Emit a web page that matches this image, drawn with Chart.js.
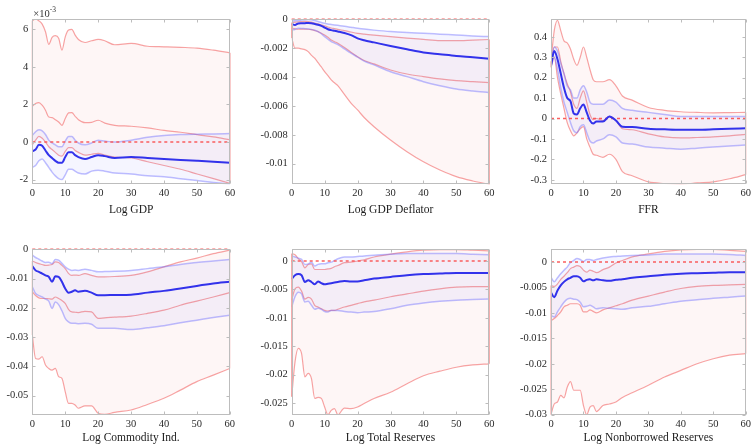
<!DOCTYPE html>
<html>
<head>
<meta charset="utf-8">
<script src="https://cdn.jsdelivr.net/npm/chart.js@4.4.0/dist/chart.umd.min.js"></script>
<style>
html, body { margin: 0; padding: 0; background: #fff; }
#wrap { position: relative; width: 754px; height: 444px; overflow: hidden; }
#wrap canvas { position: absolute; }
</style>
</head>
<body>
<div id="wrap">
  <canvas id="c1" width="251" height="222" style="left:0px;top:0px"></canvas>
  <canvas id="c2" width="251" height="222" style="left:251px;top:0px"></canvas>
  <canvas id="c3" width="252" height="222" style="left:502px;top:0px"></canvas>
  <canvas id="c4" width="251" height="222" style="left:0px;top:222px"></canvas>
  <canvas id="c5" width="251" height="222" style="left:251px;top:222px"></canvas>
  <canvas id="c6" width="252" height="222" style="left:502px;top:222px"></canvas>
</div>
<script>
// horizons (quarters after the shock)
const horizon = [0,1,2,3,4,5,6,7,8,9,10,11,12,13,14,16,18,20,22,25,30,35,40,45,50,55,60];
const xTicks = [0,10,20,30,40,50,60];

// Log GDP (values in units of 10^-3)
const gdpRedHi  = [6.46,6.55,6.45,6.28,5.87,5.2,5.57,5.66,5.52,4.89,5.6,5.96,6.0,5.69,5.46,5.3,5.39,5.46,5.39,5.18,5.25,5.1,5.07,5.04,5.0,4.89,4.75];
const gdpRedMid = [1.9,2.05,2.1,1.96,1.69,1.33,1.3,1.19,1.07,0.89,1.25,1.55,1.57,1.37,1.19,1.03,1.05,1.16,1.01,0.89,0.84,0.75,0.62,0.52,0.39,0.27,0.12];
const gdpRedLo  = [-0.15,0.1,0.3,0.2,0.0,-0.25,-0.4,-0.55,-0.7,-0.75,-0.5,-0.3,-0.3,-0.45,-0.55,-0.7,-0.65,-0.6,-0.7,-0.8,-0.85,-1.05,-1.25,-1.45,-1.7,-1.95,-2.2];
const gdpBlueHi = [0.35,0.55,0.65,0.6,0.4,0.1,-0.05,-0.15,-0.25,-0.25,0.05,0.3,0.3,0.1,-0.05,-0.15,-0.05,0.1,0.05,0.0,0.1,0.25,0.35,0.4,0.42,0.43,0.45];
const gdpBlueMid = [-0.5,-0.4,-0.15,-0.2,-0.45,-0.7,-0.85,-1.0,-1.1,-1.1,-0.8,-0.55,-0.55,-0.7,-0.8,-0.9,-0.8,-0.7,-0.75,-0.85,-0.8,-0.85,-0.9,-0.95,-1.0,-1.05,-1.1];
const gdpBlueLo = [-1.35,-1.25,-1.0,-0.9,-1.1,-1.35,-1.6,-1.8,-1.95,-2.0,-1.75,-1.45,-1.45,-1.55,-1.65,-1.7,-1.55,-1.5,-1.55,-1.65,-1.7,-1.8,-1.85,-1.95,-2.05,-2.15,-2.25];
const gdpTicks = [6,4,2,0,-2];
const gdpTickLabels = ['6','4','2','0','-2'];

// Log GDP Deflator
const defRedHi  = [-0.00023,-0.0002,-0.00017,-0.00016,-0.00015,-0.00016,-0.0002,-0.00026,-0.00032,-0.00039,-0.00046,-0.00053,-0.0006,-0.00065,-0.0007,-0.00078,-0.00088,-0.00097,-0.00103,-0.0011,-0.0012,-0.0013,-0.00139,-0.00148,-0.00148,-0.00144,-0.0014];
const defRedMid = [-0.00062,-0.00066,-0.00069,-0.00068,-0.00068,-0.00069,-0.00072,-0.00078,-0.00085,-0.00096,-0.00109,-0.00125,-0.00143,-0.00155,-0.00166,-0.00195,-0.00228,-0.00259,-0.00285,-0.00309,-0.00351,-0.00379,-0.00397,-0.00413,-0.00425,-0.00432,-0.00439];
const defRedLo  = [-0.0013,-0.002,-0.002,-0.00205,-0.0021,-0.00224,-0.0025,-0.0027,-0.003,-0.0033,-0.00363,-0.0039,-0.0042,-0.0044,-0.0046,-0.0052,-0.0058,-0.00628,-0.0068,-0.00744,-0.00836,-0.00917,-0.00987,-0.01044,-0.0109,-0.0112,-0.01143];
const defBlueHi = [-0.00012,-0.0001,-0.00008,-0.00005,-0.00003,-0.00002,-0.00004,-0.00009,-0.00015,-0.00022,-0.00028,-0.00033,-0.00036,-0.00039,-0.00042,-0.00048,-0.00055,-0.00062,-0.00068,-0.00075,-0.00085,-0.00092,-0.00097,-0.00103,-0.00109,-0.00115,-0.0012];
const defBlueMid = [-0.00032,-0.00039,-0.00029,-0.00028,-0.00027,-0.00025,-0.00027,-0.00032,-0.00038,-0.00046,-0.00057,-0.00069,-0.00075,-0.00079,-0.00084,-0.00095,-0.0011,-0.00132,-0.00145,-0.0016,-0.00185,-0.00208,-0.0023,-0.00242,-0.00254,-0.00263,-0.00273];
const defBlueLo = [-0.00074,-0.0007,-0.00062,-0.00063,-0.00065,-0.00067,-0.0007,-0.00076,-0.00085,-0.001,-0.0012,-0.00138,-0.00155,-0.00165,-0.00175,-0.00205,-0.00235,-0.00262,-0.0029,-0.00316,-0.00363,-0.00397,-0.00432,-0.0046,-0.00483,-0.00497,-0.00508];
const defTicks = [0,-0.002,-0.004,-0.006,-0.008,-0.01];
const defTickLabels = ['0','-0.002','-0.004','-0.006','-0.008','-0.01'];

// FFR
const ffrRedHi  = [0.28,0.43,0.48,0.43,0.38,0.37,0.34,0.29,0.26,0.3,0.35,0.3,0.24,0.19,0.18,0.18,0.19,0.16,0.11,0.09,0.054,0.04,0.033,0.03,0.028,0.029,0.03];
const ffrRedMid = [0.25,0.35,0.35,0.28,0.22,0.17,0.13,0.07,0.05,0.1,0.135,0.08,0.02,-0.005,0.0,-0.01,0.01,-0.01,-0.05,-0.055,-0.075,-0.09,-0.095,-0.093,-0.09,-0.085,-0.078];
const ffrRedLo  = [0.25,0.3,0.2,0.12,0.05,-0.02,-0.06,-0.085,-0.07,-0.05,-0.04,-0.1,-0.14,-0.175,-0.18,-0.19,-0.175,-0.2,-0.26,-0.28,-0.31,-0.318,-0.322,-0.315,-0.31,-0.295,-0.275];
const ffrBlueHi = [0.27,0.35,0.33,0.27,0.22,0.16,0.14,0.1,0.1,0.14,0.16,0.13,0.08,0.07,0.07,0.07,0.09,0.08,0.05,0.04,0.03,0.02,0.01,0.01,0.01,0.01,0.01];
const ffrBlueMid = [0.26,0.33,0.29,0.22,0.15,0.1,0.085,0.025,0.02,0.05,0.068,0.03,-0.01,-0.025,-0.015,-0.015,0.01,-0.01,-0.04,-0.042,-0.05,-0.053,-0.055,-0.055,-0.053,-0.05,-0.048];
const ffrBlueLo = [0.25,0.3,0.24,0.15,0.08,0.03,-0.02,-0.06,-0.07,-0.04,-0.03,-0.07,-0.11,-0.12,-0.11,-0.1,-0.08,-0.09,-0.12,-0.125,-0.14,-0.145,-0.15,-0.145,-0.14,-0.135,-0.13];
const ffrTicks = [0.4,0.3,0.2,0.1,0,-0.1,-0.2,-0.3];
const ffrTickLabels = ['0.4','0.3','0.2','0.1','0','-0.1','-0.2','-0.3'];

// Log Commodity Ind.
const comRedHi  = [-0.004,-0.0045,-0.0049,-0.0052,-0.0055,-0.0054,-0.0052,-0.0043,-0.0045,-0.0055,-0.0066,-0.0082,-0.0089,-0.0088,-0.0089,-0.0083,-0.0089,-0.0094,-0.0094,-0.0093,-0.0089,-0.0077,-0.006,-0.0043,-0.003,-0.0015,-0.0003];
const comRedMid = [-0.0145,-0.0158,-0.0166,-0.0168,-0.0168,-0.0169,-0.017,-0.0163,-0.0168,-0.0175,-0.0185,-0.0205,-0.0214,-0.0215,-0.0216,-0.0212,-0.0214,-0.0236,-0.0234,-0.0232,-0.0228,-0.0219,-0.0208,-0.0191,-0.0177,-0.0163,-0.0148];
const comRedLo  = [-0.0293,-0.0373,-0.0375,-0.0367,-0.0395,-0.0407,-0.0413,-0.0407,-0.0435,-0.0441,-0.0486,-0.0526,-0.0526,-0.0532,-0.0543,-0.0535,-0.0535,-0.056,-0.0564,-0.0557,-0.0549,-0.053,-0.0509,-0.0481,-0.0452,-0.043,-0.0407];
const comBlueHi = [-0.002,-0.0028,-0.0034,-0.004,-0.0045,-0.0044,-0.0049,-0.0035,-0.0037,-0.0048,-0.006,-0.0068,-0.0072,-0.0071,-0.0072,-0.0068,-0.0072,-0.0077,-0.0076,-0.0075,-0.0072,-0.0066,-0.006,-0.0052,-0.0045,-0.004,-0.0035];
const comBlueMid = [-0.0057,-0.0072,-0.0077,-0.0083,-0.0089,-0.0094,-0.0111,-0.0092,-0.0094,-0.0111,-0.0134,-0.0148,-0.0145,-0.014,-0.0145,-0.0142,-0.0148,-0.0157,-0.0157,-0.0156,-0.0155,-0.0148,-0.0142,-0.0134,-0.0125,-0.0117,-0.0111];
const comBlueLo = [-0.0128,-0.0151,-0.0158,-0.0163,-0.017,-0.0177,-0.0202,-0.018,-0.0189,-0.021,-0.0236,-0.0248,-0.0253,-0.0253,-0.0254,-0.0253,-0.0256,-0.027,-0.027,-0.027,-0.0274,-0.0268,-0.0261,-0.0251,-0.0242,-0.0233,-0.0225];
const comTicks = [0,-0.01,-0.02,-0.03,-0.04,-0.05];
const comTickLabels = ['0','-0.01','-0.02','-0.03','-0.04','-0.05'];

// Log Total Reserves
const totRedHi  = [0.0013,0.0011,0.0004,-0.0001,-0.0012,-0.0006,-0.0005,-0.0015,-0.0015,-0.0015,-0.0015,-0.0014,-0.0013,-0.001,-0.0008,-0.0003,-0.0002,0.0,0.0002,0.0007,0.0012,0.0016,0.0019,0.002,0.002,0.0019,0.0018];
const totRedMid = [-0.0069,-0.0049,-0.0046,-0.0053,-0.0067,-0.0064,-0.0067,-0.0078,-0.0081,-0.0084,-0.0087,-0.0088,-0.0087,-0.0087,-0.0085,-0.0081,-0.0078,-0.0075,-0.0072,-0.0069,-0.0063,-0.0058,-0.0053,-0.0049,-0.0046,-0.0045,-0.0045];
const totRedLo  = [-0.0239,-0.0178,-0.0154,-0.0163,-0.0204,-0.0198,-0.0207,-0.0242,-0.024,-0.0242,-0.0257,-0.0271,-0.0263,-0.026,-0.0271,-0.0259,-0.026,-0.0257,-0.0251,-0.0242,-0.0231,-0.0216,-0.0202,-0.0194,-0.0187,-0.0183,-0.0181];
const totBlueHi = [0.0009,0.0007,0.0005,0.0003,-0.0006,-0.0005,-0.0002,-0.0009,-0.0006,-0.0005,-0.0005,-0.0003,-0.0002,0.0001,0.0004,0.0007,0.0007,0.0008,0.0009,0.001,0.0012,0.0013,0.0013,0.0013,0.0013,0.0012,0.0011];
const totBlueMid = [-0.0032,-0.0025,-0.0023,-0.0025,-0.0037,-0.0034,-0.0037,-0.0041,-0.0036,-0.0039,-0.0041,-0.004,-0.0039,-0.0038,-0.0037,-0.0035,-0.0036,-0.0036,-0.0034,-0.0031,-0.0028,-0.0025,-0.0023,-0.0022,-0.0021,-0.0021,-0.0021];
const totBlueLo = [-0.0081,-0.0063,-0.0055,-0.0058,-0.0072,-0.0071,-0.0078,-0.0085,-0.0083,-0.0085,-0.0089,-0.009,-0.0087,-0.0087,-0.0087,-0.0089,-0.009,-0.0091,-0.009,-0.0089,-0.0084,-0.0078,-0.0074,-0.0071,-0.0069,-0.0068,-0.0067];
const totTicks = [0,-0.005,-0.01,-0.015,-0.02,-0.025];
const totTickLabels = ['0','-0.005','-0.01','-0.015','-0.02','-0.025'];

// Log Nonborrowed Reserves
const nbrRedHi  = [-0.0046,-0.0048,-0.0043,-0.0034,-0.0028,-0.0021,-0.0013,-0.001,-0.0007,-0.0009,-0.0016,-0.002,-0.0016,-0.0018,-0.0021,-0.0015,-0.001,-0.0002,0.0003,0.001,0.0016,0.0021,0.0024,0.0025,0.0025,0.0023,0.0021];
const nbrRedMid = [-0.0115,-0.0111,-0.0105,-0.0098,-0.0088,-0.0085,-0.0082,-0.0082,-0.0082,-0.0085,-0.0098,-0.0098,-0.0094,-0.0097,-0.01,-0.0094,-0.009,-0.0086,-0.0082,-0.0075,-0.0067,-0.0059,-0.0052,-0.0048,-0.0046,-0.0045,-0.0044];
const nbrRedLo  = [-0.03,-0.0279,-0.0275,-0.0262,-0.0267,-0.0246,-0.0235,-0.0252,-0.0252,-0.0252,-0.0282,-0.03,-0.0285,-0.0282,-0.0294,-0.0282,-0.0279,-0.0275,-0.0266,-0.0257,-0.0242,-0.0226,-0.0213,-0.02,-0.019,-0.0183,-0.018];
const nbrBlueHi = [-0.003,-0.0039,-0.0031,-0.0023,-0.0016,-0.001,-0.0001,0.0003,0.0007,0.0005,0.0001,0.0005,0.0005,0.0003,0.0005,0.0008,0.001,0.0011,0.0012,0.0013,0.0014,0.0016,0.0016,0.0016,0.0016,0.0015,0.0013];
const nbrBlueMid = [-0.006,-0.0069,-0.0056,-0.0046,-0.0039,-0.0034,-0.0031,-0.0028,-0.0028,-0.0031,-0.0038,-0.0035,-0.0034,-0.0036,-0.0034,-0.0036,-0.0037,-0.0035,-0.0034,-0.0031,-0.0028,-0.0025,-0.0023,-0.0022,-0.0021,-0.002,-0.002];
const nbrBlueLo = [-0.0105,-0.0108,-0.0098,-0.0088,-0.0079,-0.0073,-0.0071,-0.0073,-0.0074,-0.0079,-0.0088,-0.0087,-0.0085,-0.0088,-0.0092,-0.009,-0.0091,-0.0092,-0.0093,-0.009,-0.0087,-0.0082,-0.0077,-0.0074,-0.0071,-0.0069,-0.0067];
const nbrTicks = [0,-0.005,-0.01,-0.015,-0.02,-0.025,-0.03];
const nbrTickLabels = ['0','-0.005','-0.01','-0.015','-0.02','-0.025','-0.03'];

const serif = '"Liberation Serif", "Times New Roman", serif';
const frameColor = '#bdbdbd';

// box frame, inward tick marks, patch edges and the x10^-3 note
const matlabAxes = {
    id: 'matlabAxes',
    afterDatasetsDraw(chart, args, opts) {
        const {ctx, chartArea: a, scales: {x, y}} = chart;
        ctx.save();

        // red patch edges at both ends
        ctx.strokeStyle = 'rgba(240,110,110,0.7)';
        ctx.lineWidth = 1;
        [0, horizon.length - 1].forEach(i => {
            const px = x.getPixelForValue(horizon[i]);
            ctx.beginPath();
            ctx.moveTo(px, y.getPixelForValue(opts.redHi[i]));
            ctx.lineTo(px, y.getPixelForValue(opts.redLo[i]));
            ctx.stroke();
        });

        ctx.strokeStyle = frameColor;
        ctx.lineWidth = 1;
        const l = Math.round(a.left) + 0.5, r = Math.round(a.right) - 0.5;
        const t = Math.round(a.top) + 0.5, b = Math.round(a.bottom) - 0.5;
        ctx.strokeRect(l, t, r - l, b - t);
        const tl = 3;
        ctx.beginPath();
        xTicks.forEach(v => {
            const px = Math.round(x.getPixelForValue(v)) + 0.5;
            ctx.moveTo(px, b); ctx.lineTo(px, b - tl);
            ctx.moveTo(px, t); ctx.lineTo(px, t + tl);
        });
        opts.yTicks.forEach(v => {
            const py = Math.round(y.getPixelForValue(v)) + 0.5;
            ctx.moveTo(l, py); ctx.lineTo(l + tl, py);
            ctx.moveTo(r, py); ctx.lineTo(r - tl, py);
        });
        ctx.stroke();

        if (opts.exponent) {
            ctx.fillStyle = '#333';
            ctx.textBaseline = 'alphabetic';
            ctx.font = '10.5px ' + serif;
            ctx.fillText('\u00d710', a.left + 1, a.top - 2);
            const w = ctx.measureText('\u00d710').width;
            ctx.font = '7.5px ' + serif;
            ctx.fillText('-3', a.left + 1 + w, a.top - 7);
        }
        ctx.restore();
    }
};

function drawPanel(id, p) {
    const pts = arr => horizon.map((h, i) => ({x: h, y: arr[i]}));
    const thin = {pointRadius: 0, fill: false, cubicInterpolationMode: 'monotone'};

    // first entry is drawn last (on top)
    const datasets = [
        {...thin, data: pts(p.blueMid), borderColor: 'rgb(50,50,235)', borderWidth: 2},
        {...thin, data: [{x: horizon[0], y: 0}, {x: horizon[horizon.length - 1], y: 0}],
            borderColor: 'rgba(250,85,85,0.95)', borderWidth: 1.4, borderDash: [3, 3], clip: 3},
        {...thin, data: pts(p.blueLo), borderColor: 'rgba(110,110,255,0.45)', borderWidth: 1.5},
        {...thin, data: pts(p.blueHi), borderColor: 'rgba(110,110,255,0.45)', borderWidth: 1.5,
            fill: {target: '-1'}, backgroundColor: 'rgba(110,110,255,0.07)'},
        {...thin, data: pts(p.redMid), borderColor: 'rgba(240,90,90,0.55)', borderWidth: 1.2},
        {...thin, data: pts(p.redLo), borderColor: 'rgba(240,90,90,0.55)', borderWidth: 1.2},
        {...thin, data: pts(p.redHi), borderColor: 'rgba(240,90,90,0.55)', borderWidth: 1.2,
            fill: {target: '-1'}, backgroundColor: 'rgba(245,120,120,0.065)'}
    ];

    const ctx = document.getElementById(id).getContext('2d');
    new Chart(ctx, {
        type: 'line',
        data: {datasets: datasets},
        plugins: [matlabAxes],
        options: {
            responsive: false,
            animation: false,
            layout: {padding: {top: p.padTop, right: p.padRight, bottom: p.padBottom, left: 0}},
            plugins: {
                legend: {display: false},
                tooltip: {enabled: false},
                matlabAxes: {yTicks: p.yTicks, redHi: p.redHi, redLo: p.redLo, exponent: p.exponent}
            },
            scales: {
                x: {
                    type: 'linear', min: 0, max: 60,
                    grid: {display: false, drawTicks: false},
                    border: {display: false},
                    afterBuildTicks: s => { s.ticks = xTicks.map(v => ({value: v})); },
                    ticks: {padding: 3, color: '#2a2a2a', maxRotation: 0, font: {family: serif, size: 10.5}},
                    title: {display: true, text: p.title, color: '#1a1a1a', padding: {top: 0, bottom: 0},
                        font: {family: serif, size: 11.5, lineHeight: 1}},
                    afterFit: s => { s.height = p.xAxisH; }
                },
                y: {
                    type: 'linear', min: p.yMin, max: p.yMax,
                    grid: {display: false, drawTicks: false},
                    border: {display: false},
                    afterBuildTicks: s => { s.ticks = p.yTicks.map(v => ({value: v})); },
                    ticks: {
                        padding: 4, color: '#2a2a2a', font: {family: serif, size: 10.5},
                        callback: v => {
                            const k = p.yTicks.indexOf(v);
                            return k >= 0 ? p.yTickLabels[k] : '';
                        }
                    },
                    afterFit: s => { s.width = p.yAxisW; }
                }
            }
        }
    });
}

const topRow = {padTop: 19, padBottom: 6.2, xAxisH: 31.5};
const botRow = {padTop: 27.3, padBottom: 0, xAxisH: 29.3};

drawPanel('c1', {...topRow, title: 'Log GDP', yAxisW: 32.3, padRight: 21, yMin: -2.25, yMax: 6.55,
    yTicks: gdpTicks, yTickLabels: gdpTickLabels, exponent: true,
    redHi: gdpRedHi, redMid: gdpRedMid, redLo: gdpRedLo, blueHi: gdpBlueHi, blueMid: gdpBlueMid, blueLo: gdpBlueLo});
drawPanel('c2', {...topRow, padTop: 19.3, title: 'Log GDP Deflator', yAxisW: 40.7, padRight: 12.7, yMin: -0.01143, yMax: 0,
    yTicks: defTicks, yTickLabels: defTickLabels,
    redHi: defRedHi, redMid: defRedMid, redLo: defRedLo, blueHi: defBlueHi, blueMid: defBlueMid, blueLo: defBlueLo});
drawPanel('c3', {...topRow, title: 'FFR', yAxisW: 49, padRight: 5.7, yMin: -0.322, yMax: 0.487,
    yTicks: ffrTicks, yTickLabels: ffrTickLabels,
    redHi: ffrRedHi, redMid: ffrRedMid, redLo: ffrRedLo, blueHi: ffrBlueHi, blueMid: ffrBlueMid, blueLo: ffrBlueLo});
drawPanel('c4', {...botRow, title: 'Log Commodity Ind.', yAxisW: 32.3, padRight: 21.3, yMin: -0.0565, yMax: 0,
    yTicks: comTicks, yTickLabels: comTickLabels,
    redHi: comRedHi, redMid: comRedMid, redLo: comRedLo, blueHi: comBlueHi, blueMid: comBlueMid, blueLo: comBlueLo});
drawPanel('c5', {...botRow, title: 'Log Total Reserves', yAxisW: 40.7, padRight: 12.7, yMin: -0.02706, yMax: 0.00206,
    yTicks: totTicks, yTickLabels: totTickLabels,
    redHi: totRedHi, redMid: totRedMid, redLo: totRedLo, blueHi: totBlueHi, blueMid: totBlueMid, blueLo: totBlueLo});
drawPanel('c6', {...botRow, title: 'Log Nonborrowed Reserves', yAxisW: 49, padRight: 5.7, yMin: -0.03, yMax: 0.0025,
    yTicks: nbrTicks, yTickLabels: nbrTickLabels,
    redHi: nbrRedHi, redMid: nbrRedMid, redLo: nbrRedLo, blueHi: nbrBlueHi, blueMid: nbrBlueMid, blueLo: nbrBlueLo});
</script>
</body>
</html>
